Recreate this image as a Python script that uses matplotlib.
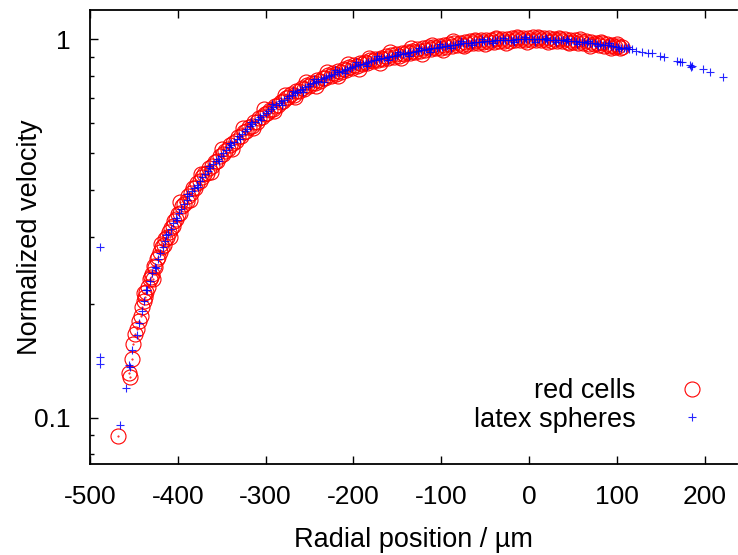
import matplotlib
matplotlib.use("Agg")
import matplotlib.pyplot as plt
from matplotlib.ticker import LogLocator, FixedLocator, NullFormatter, FixedFormatter

plt.rcParams['font.family'] = ['Liberation Sans', 'DejaVu Sans']
plt.rcParams['axes.unicode_minus'] = False

# ---- data ----
red_x = [-468, -456, -455, -452, -450.5, -448.6, -447, -444,
         -442, -441, -439, -437, -436, -434, -432, -431, -429, -427, -426, -424, -422, -420,
         -418, -416, -414, -412, -410, -408, -406, -404, -402, -400, -398, -395, -393, -390,
         -388, -385, -383, -380, -378, -375, -372, -370, -367, -364, -361, -358, -355, -352,
         -349, -346, -343, -340, -337, -334, -331, -328, -325, -322, -319, -316, -313, -310,
         -307, -304, -301, -298, -295, -292, -289, -286, -283, -280, -277, -274, -271, -268,
         -265, -262, -259, -256, -253, -250, -247, -244, -241, -238, -235, -232, -229, -226,
         -223, -220, -217, -214, -211, -208, -205, -202, -199, -196, -193, -190, -187, -184,
         -181, -178, -175, -172, -169, -166, -163, -160, -157, -154, -151, -148, -145, -142,
         -139, -136, -133, -130, -127, -124, -121, -118, -115, -112, -109, -106, -103, -100,
         -97, -94, -91, -88, -85, -82, -79, -76, -73, -70, -67, -64, -61, -58, -55, -52,
         -49, -46, -43, -40, -37, -34, -31, -28, -25, -22, -19, -16, -13, -10, -7, -4,
         -1, 2, 5, 8, 11, 14, 17, 20, 23, 26, 29, 32, 35, 38, 41, 44,
         47, 50, 53, 56, 59, 62, 65, 68, 71, 74, 77, 80, 83, 86, 89, 92,
         95, 98, 101, 104, 106,
         -438, -428, -419, -409, -397, -386, -374, -362, -350, -338, -326, -314, -302, -290,
         -278, -266, -254, -242, -230, -218, -206, -194, -182, -170, -158, -146, -134, -122,
         -110, -98, -86, -74, -62, -50, -38, -26, -14, -2, 10, 22, 34, 46, 58, 70, 82, 94, 100]
red_y = [0.0897, 0.131, 0.128, 0.143, 0.157, 0.166, 0.172, 0.180,
         0.186, 0.196, 0.203, 0.209, 0.215, 0.222, 0.233, 0.236, 0.240, 0.252, 0.250, 0.262, 0.266, 0.274,
         0.282, 0.286, 0.297, 0.300, 0.310, 0.318, 0.321, 0.332, 0.336, 0.345, 0.348, 0.362, 0.368, 0.374,
         0.386, 0.392, 0.404, 0.404, 0.418, 0.422, 0.432, 0.440, 0.444, 0.458, 0.462, 0.474, 0.478, 0.492,
         0.497, 0.508, 0.512, 0.526, 0.531, 0.540, 0.552, 0.556, 0.570, 0.572, 0.588, 0.590, 0.604, 0.606,
         0.620, 0.624, 0.636, 0.640, 0.652, 0.654, 0.668, 0.670, 0.684, 0.686, 0.700, 0.702, 0.715, 0.712,
         0.728, 0.728, 0.742, 0.740, 0.756, 0.752, 0.768, 0.766, 0.780, 0.776, 0.792, 0.788, 0.804, 0.800,
         0.815, 0.810, 0.826, 0.822, 0.836, 0.830, 0.846, 0.842, 0.856, 0.850, 0.864, 0.858, 0.872, 0.866,
         0.880, 0.874, 0.888, 0.880, 0.894, 0.886, 0.902, 0.894, 0.908, 0.900, 0.915, 0.906, 0.922, 0.912,
         0.928, 0.918, 0.934, 0.924, 0.940, 0.930, 0.946, 0.936, 0.952, 0.942, 0.957, 0.946, 0.962, 0.950,
         0.966, 0.956, 0.970, 0.960, 0.975, 0.964, 0.979, 0.968, 0.983, 0.972, 0.987, 0.976, 0.990, 0.978, 0.993, 0.982,
         0.996, 0.984, 0.998, 0.986, 1.000, 0.990, 1.002, 0.990, 1.004, 0.992, 1.006, 0.994, 1.008, 0.994, 1.010, 0.996,
         1.010, 0.996, 1.012, 0.996, 1.010, 0.994, 1.008, 0.994, 1.006, 0.992, 1.004, 0.990, 1.002, 0.988, 1.000, 0.986,
         0.998, 0.982, 0.995, 0.980, 0.992, 0.976, 0.988, 0.972, 0.984, 0.970, 0.980, 0.966, 0.976, 0.962, 0.972, 0.958,
         0.966, 0.952, 0.960, 0.946, 0.952,
         0.214, 0.232, 0.288, 0.300, 0.372, 0.376, 0.440, 0.446, 0.512, 0.514, 0.584, 0.582, 0.654, 0.646,
         0.714, 0.702, 0.770, 0.754, 0.818, 0.798, 0.860, 0.836, 0.894, 0.868, 0.924, 0.892, 0.946, 0.916,
         0.968, 0.938, 0.988, 0.958, 0.998, 0.972, 1.008, 0.980, 1.012, 0.984, 1.014, 0.982, 1.010, 0.976,
         1.002, 0.962, 0.986, 0.946, 0.970]

blue_x = [-489, -489, -489, -466, -459, -455.5, -455, -451.7,
          -447, -444, -441, -438, -435, -432, -429, -426, -423, -420, -417, -414, -411, -408, -405, -402,
          -399, -396, -393, -390, -387, -384, -381, -378, -375, -372, -369, -366, -363, -360, -357, -354,
          -351, -348, -345, -342, -339, -336, -333, -330, -327, -324, -321, -318, -315, -312, -309, -306,
          -303, -300, -297, -294, -291, -288, -285, -282, -279, -276, -273, -270, -267, -264, -261, -258,
          -255, -252, -249, -246, -243, -240, -237, -234, -231, -228, -225, -222, -219, -216, -213, -210,
          -207, -204, -201, -198, -195, -192, -189, -186, -183, -180, -177, -174, -171, -168, -165, -162,
          -159, -156, -153, -150, -147, -144, -141, -138, -135, -132, -129, -126, -123, -120, -117, -114,
          -111, -108, -105, -102, -99, -96, -93, -90, -87, -84, -81, -78, -75, -72, -69, -66,
          -63, -60, -57, -54, -51, -48, -45, -42, -39, -36, -33, -30, -27, -24, -21, -18,
          -15, -12, -9, -6, -3, 0, 3, 6, 9, 12, 15, 18, 21, 24, 27, 30,
          33, 36, 39, 42, 45, 48, 51, 54, 57, 60, 63, 66, 69, 72, 75, 78,
          81, 84, 87, 90, 93, 96, 99, 102, 105, 108, 111, 114, 117,
          122, 128.6, 136, 140, 149.5, 154, 169, 172, 174, 183, 184.6, 186, 198, 206, 221,
          -436, -425, -413, -401, -389, -377, -365, -353, -341, -329, -317, -305, -293, -281,
          -269, -257, -245, -233, -221, -209, -197, -185, -173, -161, -149, -137, -125, -113,
          -101, -89, -77, -65, -53, -41, -29, -17, -5, 7, 19, 31, 43, 55, 67, 79, 91, 103, 113]
blue_y = [0.283, 0.145, 0.1385, 0.0959, 0.120, 0.138, 0.136, 0.151,
          0.165, 0.178, 0.192, 0.204, 0.218, 0.230, 0.241, 0.251, 0.262, 0.272, 0.283, 0.294, 0.305, 0.316, 0.327, 0.337,
          0.347, 0.357, 0.367, 0.376, 0.386, 0.397, 0.404, 0.413, 0.422, 0.432, 0.441, 0.449, 0.458, 0.467, 0.476, 0.484,
          0.493, 0.501, 0.510, 0.518, 0.527, 0.536, 0.545, 0.555, 0.563, 0.572, 0.581, 0.590, 0.598, 0.606, 0.615, 0.623,
          0.632, 0.640, 0.648, 0.655, 0.663, 0.670, 0.678, 0.685, 0.693, 0.700, 0.707, 0.714, 0.721, 0.727, 0.734, 0.740,
          0.747, 0.754, 0.760, 0.766, 0.772, 0.778, 0.784, 0.789, 0.795, 0.801, 0.806, 0.812, 0.818, 0.822, 0.827, 0.832,
          0.837, 0.842, 0.846, 0.851, 0.855, 0.859, 0.863, 0.868, 0.872, 0.876, 0.880, 0.884, 0.888, 0.891, 0.894, 0.897,
          0.900, 0.903, 0.906, 0.909, 0.912, 0.915, 0.918, 0.921, 0.924, 0.927, 0.930, 0.933, 0.935, 0.938, 0.941, 0.943,
          0.946, 0.949, 0.951, 0.954, 0.957, 0.959, 0.962, 0.964, 0.966, 0.968, 0.970, 0.973, 0.975, 0.977, 0.978, 0.980,
          0.982, 0.983, 0.985, 0.986, 0.988, 0.989, 0.990, 0.991, 0.993, 0.994, 0.995, 0.995, 0.996, 0.997, 0.998, 0.998,
          0.999, 0.999, 1.000, 1.000, 1.000, 1.000, 1.000, 1.000, 1.000, 1.000, 0.999, 0.999, 0.998, 0.998, 0.997, 0.996,
          0.995, 0.994, 0.993, 0.992, 0.991, 0.990, 0.988, 0.987, 0.985, 0.984, 0.982, 0.980, 0.978, 0.976, 0.975, 0.973,
          0.970, 0.968, 0.966, 0.964, 0.962, 0.959, 0.957, 0.954, 0.951, 0.949, 0.946, 0.943, 0.940,
          0.934, 0.927, 0.918, 0.920, 0.903, 0.900, 0.876, 0.869, 0.872, 0.855, 0.846, 0.851, 0.833, 0.821, 0.793,
          0.218, 0.249, 0.304, 0.333, 0.389, 0.406, 0.462, 0.476, 0.533, 0.545, 0.606, 0.611, 0.673, 0.672,
          0.732, 0.726, 0.785, 0.773, 0.832, 0.815, 0.870, 0.851, 0.903, 0.880, 0.928, 0.904, 0.951, 0.927,
          0.970, 0.948, 0.988, 0.966, 1.000, 0.978, 1.008, 0.984, 1.012, 0.986, 1.010, 0.982, 1.004, 0.972,
          0.992, 0.958, 0.975, 0.940, 0.954]

x_ticks = [-500, -400, -300, -200, -100, 0, 100, 200]
y_ticks = [0.1, 1]
y_tick_labels = ["0.1", "1"]
series_labels = ["red cells", "latex spheres"]

# ---- figure ----
fig = plt.figure(figsize=(7.38, 5.55), dpi=100)
ax = fig.add_axes([90/738, (555-464)/555, (737-90)/738, (464-10)/555])

ax.plot(red_x, red_y, linestyle='none', marker='o', markersize=10.8,
        markerfacecolor='none', markeredgecolor='#ff0000', markeredgewidth=0.8,
        label=series_labels[0], zorder=2)
ax.plot(red_x, red_y, linestyle='none', marker='.', markersize=1.0,
        color='#ff0000', zorder=2)
ax.plot(blue_x, blue_y, linestyle='none', marker='+', markersize=5.5,
        markeredgewidth=0.8, color='#0000ff', alpha=0.85,
        label=series_labels[1], zorder=3)

ax.set_yscale('log')
ax.set_xlim(-500, 237)
ax.set_ylim(0.0755, 1.195)

ax.xaxis.set_major_locator(FixedLocator(x_ticks))
ax.yaxis.set_major_locator(FixedLocator(y_ticks))
ax.yaxis.set_major_formatter(FixedFormatter(y_tick_labels))
ax.yaxis.set_minor_locator(LogLocator(base=10, subs=[2, 3, 4, 5, 6, 7, 8, 9]))
ax.yaxis.set_minor_formatter(NullFormatter())

ax.spines['right'].set_visible(False)
for s in ['left', 'bottom', 'top']:
    ax.spines[s].set_linewidth(1.3)
    ax.spines[s].set_color('#000000')

ax.tick_params(axis='x', which='major', direction='in', length=6, width=1.0,
               top=True, bottom=True, labelsize=19, pad=15)
ax.tick_params(axis='y', which='major', direction='in', length=6, width=1.0,
               left=True, right=False, labelsize=19, pad=14)
ax.tick_params(axis='y', which='minor', direction='in', length=3, width=1.0,
               left=True, right=False)

ax.set_xlabel("Radial position / \u00b5m", fontsize=19.5, labelpad=13)
ax.set_ylabel("Normalized velocity", fontsize=19.5)
ax.yaxis.set_label_coords(-0.0726, 0.5)

leg = ax.legend(loc='center right', bbox_to_anchor=(0.952, 0.129),
                frameon=False, markerfirst=False, fontsize=19.5,
                handlelength=1.0, handletextpad=1.6, labelspacing=0.1,
                borderpad=0, borderaxespad=0)

fig.savefig("out.png", dpi=100)
